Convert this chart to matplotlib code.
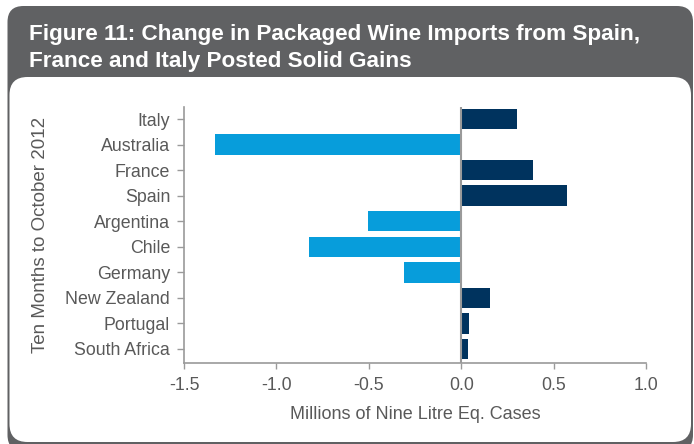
import matplotlib
matplotlib.use("Agg")
import matplotlib.pyplot as plt
from matplotlib.patches import FancyBboxPatch

plt.rcParams['font.family'] = ['Liberation Sans', 'DejaVu Sans']

# Change in packaged wine imports, ten months to October 2012 (millions of 9L cases)
countries = ["Italy", "Australia", "France", "Spain", "Argentina",
             "Chile", "Germany", "New Zealand", "Portugal", "South Africa"]
changes = [0.30, -1.333, 0.39, 0.575, -0.507, -0.824, -0.31, 0.157, 0.043, 0.038]
x_ticks = [-1.5, -1.0, -0.5, 0.0, 0.5, 1.0]
x_ticklabels = ["-1.5", "-1.0", "-0.5", "0.0", "0.5", "1.0"]

title_lines = ["Figure 11: Change in Packaged Wine Imports from Spain,",
               "France and Italy Posted Solid Gains"]
x_label = "Millions of Nine Litre Eq. Cases"
y_label = "Ten Months to October 2012"

NAVY = "#00335e"
SKY = "#079ddb"
FRAME = "#606163"
TEXT = "#595959"
AXIS = "#9a9a9a"

W, H = 694, 444
fig = plt.figure(figsize=(W / 100, H / 100), dpi=100)
fig.patch.set_facecolor("white")

# Background frame drawn in pixel coordinates
bg = fig.add_axes([0, 0, 1, 1], zorder=0)
bg.set_xlim(0, W)
bg.set_ylim(H, 0)
bg.axis("off")
bg.add_patch(FancyBboxPatch((7.5, 6), 685.5, 445, boxstyle="round,pad=0,rounding_size=16",
                            facecolor=FRAME, edgecolor="none"))
bg.add_patch(FancyBboxPatch((9.5, 77), 681.5, 365, boxstyle="round,pad=0,rounding_size=18",
                            facecolor="white", edgecolor="none"))
for i, line in enumerate(title_lines):
    bg.text(29, 40 + 26.5 * i, line, color="white", fontsize=16.2, fontweight="bold",
            va="baseline", ha="left")

# Bar chart
left, right, top, bottom = 184, 646, 107, 363
ax = fig.add_axes([left / W, 1 - bottom / H, (right - left) / W, (bottom - top) / H], zorder=1)
ax.patch.set_alpha(0)

ypos = list(range(len(countries)))
colors = [NAVY if v >= 0 else SKY for v in changes]
ax.barh(ypos, changes, height=0.8, color=colors, zorder=2)

ax.set_xlim(-1.5, 1.0)
ax.set_ylim(len(countries) - 0.45, -0.47)
ax.set_yticks(ypos)
ax.set_yticklabels(countries)
ax.set_xticks(x_ticks)
ax.set_xticklabels(x_ticklabels)
ax.axvline(0, color=AXIS, lw=1.5, zorder=3)

for s in ["top", "right"]:
    ax.spines[s].set_visible(False)
for s in ["left", "bottom"]:
    ax.spines[s].set_color(AXIS)
    ax.spines[s].set_linewidth(1.2)

ax.tick_params(axis="y", length=5, width=1, color=AXIS, labelsize=12.8,
               labelcolor=TEXT, pad=5)
ax.tick_params(axis="x", length=4, width=1, color=AXIS, labelsize=12.8,
               labelcolor=TEXT, pad=6)
ax.set_xlabel(x_label, fontsize=13, color=TEXT, labelpad=9)
fig.text(41 / W, 1 - 235 / H, y_label, rotation=90, fontsize=13.5, color=TEXT,
         ha="center", va="center")

fig.savefig("out.png", dpi=100, facecolor="white")
